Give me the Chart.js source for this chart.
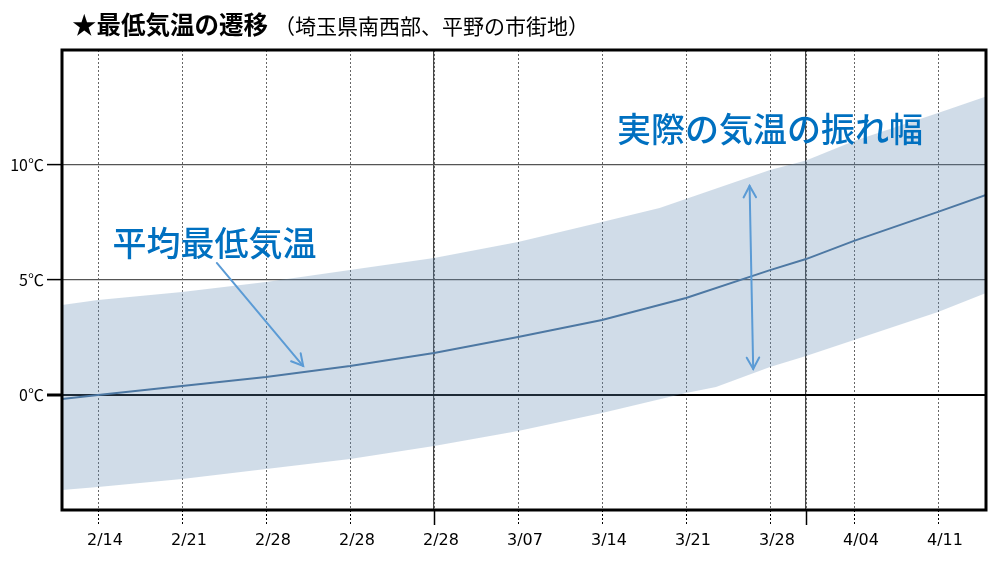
<!DOCTYPE html>
<html lang="ja">
<head>
<meta charset="utf-8">
<script src="https://cdn.jsdelivr.net/npm/chart.js@4"></script>
<style>
  body { margin: 0; background: #fff; }
  #wrap { position: relative; width: 998px; height: 572px; }
  #title { position: absolute; left: 72px; top: 6px; font-family: "Noto Sans CJK JP", sans-serif; color: #000; white-space: nowrap; }
  #title .main { font-size: 24.5px; font-weight: bold; }
  #title .sub { font-size: 21px; margin-left: 6px; }
</style>
</head>
<body>
<div id="wrap">
  <canvas id="chart" width="998" height="572"></canvas>
  <div id="title"><span class="main">★最低気温の遷移</span><span class="sub">（埼玉県南西部、平野の市街地）</span></div>
</div>
<script>
// x axis = days from the left edge of the plot
const tickDays = [3, 10, 17, 24, 31, 38, 45, 52, 59, 62, 66, 73];
const tickLabels = ["2/14", "2/21", "2/28", "2/28", "2/28", "3/07", "3/14", "3/21", "3/28", "", "4/04", "4/11"];
const monthDays = [31, 62];
const yTicks = [0, 5, 10];

// average minimum temperature
const meanDays = [0, 3, 10, 17, 24, 31, 38, 45, 52, 59, 62, 66, 73, 77];
const meanTemp = [-0.17, 0, 0.39, 0.78, 1.26, 1.83, 2.52, 3.26, 4.22, 5.43, 5.91, 6.7, 7.96, 8.7];

// range of actual temperatures (upper / lower edge)
const upperDays = [0, 3, 10, 17, 24, 31, 38, 45, 49.8, 59, 62, 66, 73, 77];
const upperTemp = [3.91, 4.13, 4.48, 4.91, 5.43, 5.96, 6.65, 7.52, 8.13, 9.78, 10.2, 11.04, 12.26, 12.98];
const lowerDays = [0, 3, 10, 17, 24, 31, 38, 45, 52, 54.5, 59, 62, 66, 73, 77];
const lowerTemp = [-4.13, -4.0, -3.65, -3.22, -2.78, -2.22, -1.57, -0.78, 0.09, 0.35, 1.22, 1.7, 2.39, 3.61, 4.43];

const toPoints = (xs, ys) => xs.map((x, i) => ({ x: x, y: ys[i] }));

const xFont = { family: "'DejaVu Sans', 'Noto Sans CJK JP', sans-serif", size: 16 };
const yFont = { family: "'Noto Sans CJK JP', sans-serif", size: 16 };

// callouts, in data coordinates
const notes = [
    { text: "平均最低気温", x: 12.7, y: 6.6 },
    { text: "実際の気温の振れ幅", x: 59, y: 11.55 }
];
const arrows = [
    { from: [12.9, 5.74], to: [20.1, 1.26], both: false },
    { from: [57.3, 9.09], to: [57.6, 1.13], both: true }
];

function arrowHead(ctx, x1, y1, x2, y2) {
    const a = Math.atan2(y2 - y1, x2 - x1);
    const len = 13, spread = 0.5;
    ctx.beginPath();
    ctx.moveTo(x2 - len * Math.cos(a - spread), y2 - len * Math.sin(a - spread));
    ctx.lineTo(x2, y2);
    ctx.lineTo(x2 - len * Math.cos(a + spread), y2 - len * Math.sin(a + spread));
    ctx.stroke();
}

const calloutPlugin = {
    id: "callouts",
    afterDatasetsDraw(chart) {
        const ctx = chart.ctx, xs = chart.scales.x, ys = chart.scales.y;
        ctx.save();
        ctx.fillStyle = "#0070c0";
        ctx.font = "500 34px 'Noto Sans CJK JP', sans-serif";
        ctx.textAlign = "center";
        ctx.textBaseline = "middle";
        notes.forEach(n => ctx.fillText(n.text, xs.getPixelForValue(n.x), ys.getPixelForValue(n.y)));

        ctx.strokeStyle = "#5b9bd5";
        ctx.lineWidth = 2;
        ctx.lineCap = "round";
        arrows.forEach(a => {
            const x1 = xs.getPixelForValue(a.from[0]), y1 = ys.getPixelForValue(a.from[1]);
            const x2 = xs.getPixelForValue(a.to[0]), y2 = ys.getPixelForValue(a.to[1]);
            ctx.beginPath();
            ctx.moveTo(x1, y1);
            ctx.lineTo(x2, y2);
            ctx.stroke();
            arrowHead(ctx, x1, y1, x2, y2);
            if (a.both) arrowHead(ctx, x2, y2, x1, y1);
        });
        ctx.restore();
    },
    afterDraw(chart) {
        // plot frame
        const c = chart.chartArea, ctx = chart.ctx;
        ctx.save();
        ctx.strokeStyle = "#000";
        ctx.lineWidth = 3;
        ctx.strokeRect(c.left, c.top, c.right - c.left, c.bottom - c.top);
        ctx.restore();
    }
};

new Chart(document.getElementById("chart"), {
    type: "line",
    data: {
        datasets: [
            {
                label: "上限",
                data: toPoints(upperDays, upperTemp),
                borderWidth: 0,
                pointRadius: 0,
                backgroundColor: "rgba(98, 138, 178, 0.3)",
                fill: "+1"
            },
            {
                label: "下限",
                data: toPoints(lowerDays, lowerTemp),
                borderWidth: 0,
                pointRadius: 0,
                fill: false
            },
            {
                label: "平均最低気温",
                data: toPoints(meanDays, meanTemp),
                borderColor: "#44709c",
                borderWidth: 2,
                pointRadius: 0,
                fill: false
            }
        ]
    },
    options: {
        responsive: false,
        animation: false,
        layout: { padding: { top: 50, right: 12, left: 0, bottom: 0 } },
        plugins: {
            legend: { display: false },
            tooltip: { enabled: false }
        },
        scales: {
            x: {
                type: "linear",
                min: 0,
                max: 77,
                afterBuildTicks: s => { s.ticks = tickDays.map(v => ({ value: v })); },
                afterFit: s => { s.height = 62; },
                ticks: {
                    autoSkip: false,
                    maxRotation: 0,
                    padding: 6,
                    labelOffset: 7,
                    color: "#000",
                    font: xFont,
                    callback: (v, i) => tickLabels[i]
                },
                grid: {
                    color: "#666",
                    lineWidth: 1,
                    tickLength: 15,
                    tickColor: "#000",
                    tickWidth: ctx => monthDays.includes(ctx.tick.value) ? 1.5 : 1,
                    tickBorderDash: ctx => monthDays.includes(ctx.tick.value) ? [] : [2, 2]
                },
                border: { display: false, dash: [2, 2] }
            },
            // solid month lines
            x2: {
                type: "linear",
                position: "top",
                min: 0,
                max: 77,
                afterBuildTicks: s => { s.ticks = monthDays.map(v => ({ value: v })); },
                afterFit: s => { s.height = 0; },
                ticks: { display: false },
                grid: { color: "#444", lineWidth: 1.2, drawTicks: false },
                border: { display: false }
            },
            y: {
                min: -5,
                max: 15,
                afterBuildTicks: s => { s.ticks = yTicks.map(v => ({ value: v })); },
                afterFit: s => { s.width = 62; },
                ticks: {
                    padding: 3,
                    color: "#000",
                    font: yFont,
                    callback: v => v + "℃"
                },
                grid: {
                    color: ctx => ctx.tick.value === 0 ? "#000" : "#555",
                    lineWidth: ctx => ctx.tick.value === 0 ? 2 : 1.2,
                    tickLength: 15,
                    tickColor: "#000",
                    tickWidth: ctx => ctx.tick.value === 0 ? 3 : 1.5
                },
                border: { display: false }
            }
        }
    },
    plugins: [calloutPlugin]
});
</script>
</body>
</html>
